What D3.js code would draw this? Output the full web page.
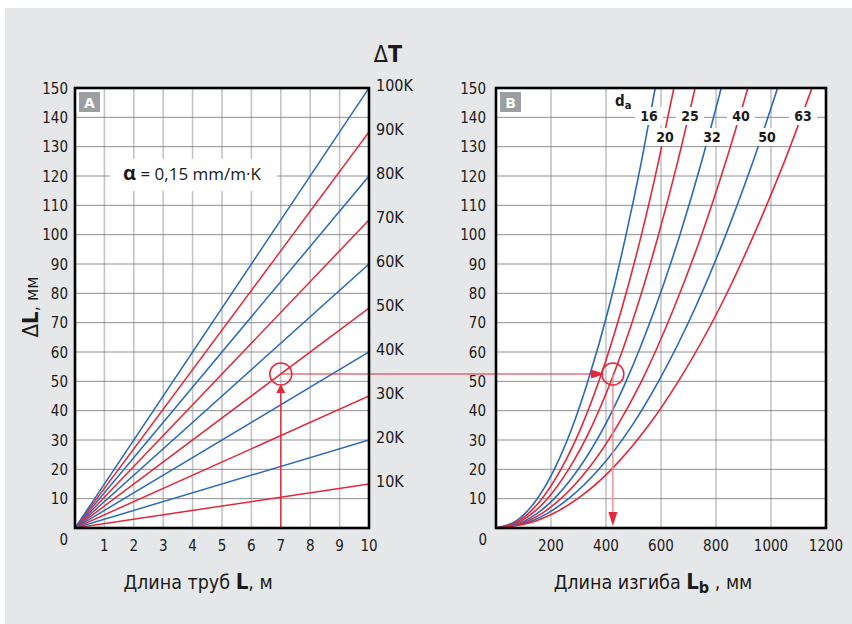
<!DOCTYPE html>
<html><head><meta charset="utf-8">
<script src="https://cdn.jsdelivr.net/npm/d3@7/dist/d3.min.js"></script>
<style>
html,body{margin:0;padding:0;background:#fff;}
svg{display:block;}
text{font-family:"DejaVu Sans Condensed","DejaVu Sans",sans-serif;fill:#1a1a1a;}
</style></head>
<body>
<svg id="chart" width="852" height="624"></svg>
<script>
// ---------- data ----------
const yTicks = [0,10,20,30,40,50,60,70,80,90,100,110,120,130,140,150];
const lengthTicks = [0,1,2,3,4,5,6,7,8,9,10];          // pipe length L, m
const deltaT = [10,20,30,40,50,60,70,80,90,100];       // ΔT, K
const deltaLat10m = [15,30,45,60,75,90,105,120,135,150]; // ΔL (mm) at L = 10 m
const bendTicks = [0,200,400,600,800,1000,1200];       // Lb, mm
const diameters = [16,20,25,32,40,50,63];              // da
const dLlevels = [0,2.5,5,10,20,35,50,75,100,125,150]; // ΔL, mm
const lb16 = [0,75,106,150,212,280,334,410,473,529,579];
const lb20 = [0,84,118,167,236,313,374,458,529,591,647];
const lb25 = [0,93,132,187,264,350,418,512,591,661,724];
const lb32 = [0,106,150,212,299,396,473,579,669,748,819];
const lb40 = [0,118,167,236,334,442,529,647,748,836,916];
const lb50 = [0,132,187,264,374,495,591,724,836,935,1024];
const lb63 = [0,148,210,297,420,555,663,813,938,1049,1149];
const bendSeries = [lb16,lb20,lb25,lb32,lb40,lb50,lb63];
// example reading: L = 7 m, ΔT = 50 K -> ΔL = 52.5 mm -> Lb ≈ 425 mm (da 25)
const exampleL = 7, exampleDL = 52.5, exampleLb = 425;

// ---------- styles ----------
const BLUE = "#2a6ab6", RED = "#e2283a";
const dtColor = d3.scaleOrdinal().domain(deltaT).range([RED,BLUE]);
const daColor = d3.scaleOrdinal().domain(diameters).range([BLUE,RED,RED,BLUE,RED,BLUE,RED]);

const svg = d3.select("#chart");
svg.append("rect").attr("x",5).attr("y",8).attr("width",847).attr("height",616).attr("fill","#e6e7e8");

const yTop = 88, yBot = 528;
const y = d3.scaleLinear().domain([0,150]).range([yBot, yTop]);
const xA = d3.scaleLinear().domain([0,10]).range([75, 369]);
const xB = d3.scaleLinear().domain([0,1200]).range([496, 826]);

function panel(x, vTicks, clipId){
  const g = svg.append("g");
  const [x0,x1] = x.range();
  g.append("rect").attr("x",x0).attr("y",yTop).attr("width",x1-x0).attr("height",yBot-yTop).attr("fill","#fff");
  g.selectAll(".vg").data(vTicks.slice(1,-1)).join("line")
    .attr("x1",d=>x(d)).attr("x2",d=>x(d)).attr("y1",yTop).attr("y2",yBot)
    .attr("stroke","#c3c4c6").attr("stroke-width",1.6);
  g.selectAll(".hg").data(yTicks.slice(1,-1)).join("line")
    .attr("x1",x0).attr("x2",x1).attr("y1",d=>y(d)).attr("y2",d=>y(d))
    .attr("stroke","#8e8f91").attr("stroke-width",1);
  svg.append("clipPath").attr("id",clipId).append("rect")
    .attr("x",x0).attr("y",yTop).attr("width",x1-x0).attr("height",yBot-yTop);
  return g;
}

// ---------- Panel A ----------
const gA = panel(xA, lengthTicks, "clipA");
gA.append("rect").attr("x",110).attr("y",159).attr("width",167).attr("height",32).attr("fill","#fff");
const alpha = gA.append("text").attr("x",192).attr("y",180).attr("text-anchor","middle")
  .style("font-family","'Open Sans',sans-serif").style("font-size","17px");
alpha.append("tspan").style("font-weight","bold").style("font-size","20px").text("α");
alpha.append("tspan").text(" = 0,15 mm/m·K");

const linesA = gA.append("g").attr("clip-path","url(#clipA)");
linesA.selectAll("line").data(deltaT).join("line")
  .attr("x1",xA(0)).attr("y1",y(0))
  .attr("x2",xA(10)).attr("y2",(d,i)=>y(deltaLat10m[i]))
  .attr("stroke",d=>dtColor(d)).attr("stroke-width",1.5);

// ---------- Panel B ----------
const gB = panel(xB, bendTicks, "clipB");
const lineGen = d3.line().x(d=>xB(d[0])).y(d=>y(d[1])).curve(d3.curveMonotoneX);
const curvesB = gB.append("g").attr("clip-path","url(#clipB)");
curvesB.selectAll("path").data(diameters).join("path")
  .attr("d",(d,i)=>lineGen(bendSeries[i].map((v,j)=>[v,dLlevels[j]])))
  .attr("fill","none").attr("stroke",d=>daColor(d)).attr("stroke-width",1.6);

const daLabelPos = {16:[649,116],25:[690,116],40:[741,116],63:[803,116],20:[665,137],32:[712,137],50:[767,137]};
const lab = gB.append("g");
diameters.forEach(d=>{
  const [cx,cy] = daLabelPos[d];
  lab.append("rect").attr("x",cx-14).attr("y",cy-9).attr("width",28).attr("height",18).attr("fill","#fff");
  lab.append("text").attr("x",cx).attr("y",cy+5).attr("text-anchor","middle")
    .style("font-weight","bold").style("font-size","14px").text(d);
});
const daT = gB.append("text").attr("x",615).attr("y",106).style("font-weight","bold").style("font-size","15px");
daT.append("tspan").text("d");
daT.append("tspan").attr("dy",3).style("font-size","11px").text("a");

[[xA,"A"],[xB,"B"]].forEach(([x,t])=>{
  const bx = x.range()[0]+4;
  svg.append("rect").attr("x",bx).attr("y",92).attr("width",21).attr("height",20).attr("fill","#9c9ea1");
  svg.append("text").attr("x",bx+10.5).attr("y",107.5).attr("text-anchor","middle")
    .style("fill","#fff").style("font-weight","bold").style("font-size","14px").style("font-family","'DejaVu Sans',sans-serif").text(t);
});

// ---------- example reading path ----------
const ex = svg.append("g");
const ax = xA(exampleL), ay = y(exampleDL), bx2 = xB(exampleLb);
ex.append("line").attr("x1",ax).attr("x2",ax).attr("y1",yBot).attr("y2",ay+16)
  .attr("stroke",RED).attr("stroke-width",1.4);
ex.append("path").attr("d",`M${ax},${ay+10}L${ax-4.5},${ay+19}L${ax+4.5},${ay+19}Z`).attr("fill",RED);
ex.append("line").attr("x1",ax).attr("x2",bx2-16).attr("y1",ay).attr("y2",ay)
  .attr("stroke",RED).attr("stroke-width",1.2);
ex.append("path").attr("d",`M${bx2-8},${ay}L${bx2-22},${ay-4.5}L${bx2-22},${ay+4.5}Z`).attr("fill",RED);
ex.append("line").attr("x1",bx2).attr("x2",bx2).attr("y1",ay).attr("y2",yBot-14)
  .attr("stroke","#ee8d95").attr("stroke-width",1.4);
ex.append("path").attr("d",`M${bx2},${yBot-2}L${bx2-4.5},${yBot-16}L${bx2+4.5},${yBot-16}Z`).attr("fill",RED);
[ax,bx2].forEach(cx=>ex.append("circle").attr("cx",cx).attr("cy",ay).attr("r",11)
  .attr("fill","none").attr("stroke",RED).attr("stroke-width",1.5));

[xA,xB].forEach(x=>{
  const [x0,x1]=x.range();
  svg.append("rect").attr("x",x0).attr("y",yTop).attr("width",x1-x0).attr("height",yBot-yTop)
    .attr("fill","none").attr("stroke","#000").attr("stroke-width",2.6);
});

// ---------- axes / tick labels ----------
function yLabels(xr){
  svg.append("g").selectAll("text").data(yTicks.slice(1)).join("text")
    .attr("x",xr).attr("y",d=>y(d)+5.5).attr("text-anchor","end")
    .style("font-size","15px").text(d=>d);
}
yLabels(68); yLabels(486);
svg.append("text").attr("x",68).attr("y",545).attr("text-anchor","end").style("font-size","15px").text("0");
svg.append("text").attr("x",487).attr("y",545).attr("text-anchor","end").style("font-size","15px").text("0");

svg.append("g").selectAll("text").data(lengthTicks.slice(1)).join("text")
  .attr("x",d=>xA(d)).attr("y",551).attr("text-anchor","middle").style("font-size","15px").text(d=>d);
svg.append("g").selectAll("text").data(bendTicks.slice(1)).join("text")
  .attr("x",d=>xB(d)).attr("y",551).attr("text-anchor","middle").style("font-size","15px").text(d=>d);

svg.append("g").selectAll("text").data(deltaT).join("text")
  .attr("x",376).attr("y",(d,i)=>y(deltaLat10m[i])+3)
  .style("font-size","16px").text(d=>d+"K");
const dT = svg.append("text").attr("x",388).attr("y",62).attr("text-anchor","middle").style("font-size","23px");
dT.append("tspan").text("Δ");
dT.append("tspan").style("font-weight","bold").text("T");

const tA = svg.append("text").attr("x",198).attr("y",589).attr("text-anchor","middle").style("font-size","19.5px");
tA.append("tspan").text("Длина труб ");
tA.append("tspan").style("font-weight","bold").style("font-size","22px").text("L");
tA.append("tspan").text(", м");

const tB = svg.append("text").attr("x",653).attr("y",589).attr("text-anchor","middle").style("font-size","19.5px");
tB.append("tspan").text("Длина изгиба ");
tB.append("tspan").style("font-weight","bold").style("font-size","22px").text("L");
tB.append("tspan").style("font-weight","bold").style("font-size","16px").attr("dy",4).text("b");
tB.append("tspan").attr("dy",-4).text(" , мм");

const tY = svg.append("text").attr("transform","translate(38,307) rotate(-90)").attr("text-anchor","middle").style("font-size","18px");
tY.append("tspan").style("font-size","22px").text("Δ");
tY.append("tspan").style("font-weight","bold").style("font-size","22px").text("L");
tY.append("tspan").text(", мм");
</script>
</body></html>
